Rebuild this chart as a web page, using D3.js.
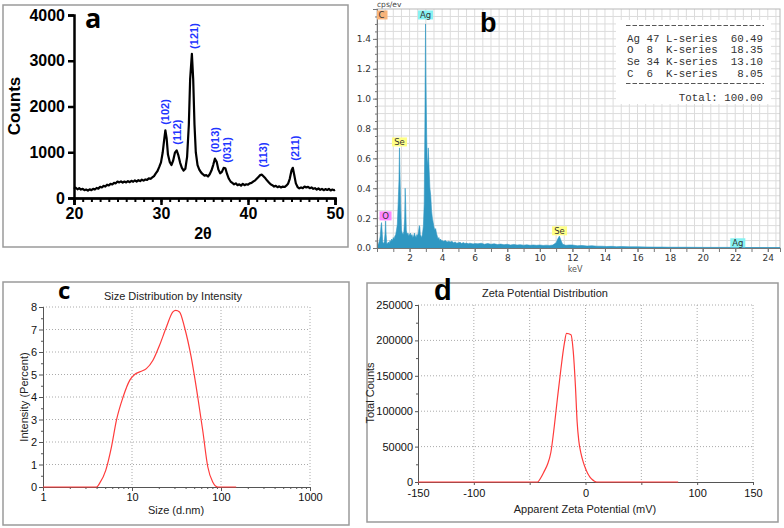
<!DOCTYPE html>
<html><head><meta charset="utf-8">
<script src="https://cdn.jsdelivr.net/npm/d3@7"></script>
<style>body{margin:0;background:#fff}svg{display:block}</style>
</head><body>
<svg id="fig" width="784" height="528"></svg>
<script>
// ---------- Panel a : XRD ----------
const xrdTheta = [20.0,20.2,20.4,20.6,20.8,21.0,21.2,21.4,21.6,21.8,22.0,22.2,22.4,22.6,22.8,23.0,23.2,23.4,23.6,23.8,24.0,24.2,24.4,24.6,24.8,25.0,25.2,25.4,25.6,25.8,26.0,26.2,26.4,26.6,26.8,27.0,27.2,27.4,27.6,27.8,28.0,28.2,28.4,28.6,28.8,29.0,29.2,29.4,29.6,29.8,30.0,30.2,30.35,30.5,30.65,30.8,31.0,31.2,31.4,31.6,31.8,32.0,32.2,32.4,32.6,32.8,33.0,33.2,33.35,33.55,33.7,33.85,34.0,34.2,34.4,34.6,34.8,35.0,35.2,35.4,35.6,35.8,36.0,36.2,36.4,36.6,36.8,37.0,37.2,37.4,37.6,37.8,38.0,38.2,38.4,38.6,38.8,39.0,39.2,39.4,39.6,39.8,40.0,40.2,40.4,40.6,40.8,41.0,41.2,41.4,41.6,41.8,42.0,42.2,42.4,42.6,42.8,43.0,43.2,43.4,43.6,43.8,44.0,44.2,44.4,44.6,44.8,45.0,45.15,45.3,45.5,45.7,45.9,46.1,46.3,46.5,46.7,46.9,47.1,47.3,47.5,47.7,47.9,48.1,48.3,48.5,48.7,48.9,49.1,49.3,49.5,49.7,49.9,50.0];
const xrdCounts = [200,225,190,215,185,200,170,185,160,190,170,200,185,220,205,245,230,265,250,290,275,310,295,330,320,360,340,365,335,360,340,370,345,375,355,385,360,390,370,400,380,405,395,430,420,450,480,540,590,680,780,1000,1250,1480,1300,950,790,720,820,990,1040,930,770,660,600,640,900,1600,2600,3150,2600,1600,1000,720,620,560,520,490,500,470,520,600,720,860,790,620,540,570,660,650,520,420,360,330,300,320,280,300,270,310,280,300,290,320,330,360,380,420,460,500,510,470,430,380,340,300,280,250,265,235,255,230,250,240,270,310,420,600,660,520,320,240,210,230,215,250,230,245,215,230,200,215,185,210,180,200,170,195,175,200,165,185,170,180];
const xrdTicks = [20,30,40,50];
const xrdYTicks = [0,1000,2000,3000,4000];
const peakNames = ["(102)","(112)","(121)","(013)","(031)","(113)","(211)"];
const peakTheta = [30.5,31.85,33.8,36.2,37.6,41.7,45.4];
const peakLevel = [1880,1440,3540,1270,1050,940,1090];

// ---------- Panel b : EDS ----------
const edsKeV = [0.05,0.1,0.15,0.2,0.25,0.28,0.31,0.35,0.4,0.45,0.5,0.53,0.56,0.6,0.65,0.7,0.75,0.8,0.85,0.9,0.95,1.0,1.05,1.1,1.15,1.2,1.25,1.3,1.35,1.38,1.41,1.45,1.5,1.55,1.6,1.65,1.7,1.73,1.76,1.8,1.85,1.9,1.95,2.0,2.05,2.1,2.15,2.2,2.25,2.3,2.35,2.4,2.45,2.5,2.55,2.6,2.63,2.66,2.7,2.75,2.8,2.85,2.9,2.94,2.98,3.0,3.02,3.05,3.08,3.12,3.15,3.18,3.21,3.25,3.3,3.35,3.4,3.45,3.5,3.55,3.6,3.65,3.7,3.75,3.8,3.85,3.9,3.95,4.0,4.1,4.2,4.3,4.4,4.5,4.6,4.7,4.8,4.9,5.0,5.1,5.2,5.3,5.4,5.5,5.6,5.7,5.8,5.9,6.0,6.2,6.4,6.6,6.8,7.0,7.2,7.4,7.6,7.8,8.0,8.2,8.4,8.6,8.8,9.0,9.2,9.4,9.6,9.8,10.0,10.2,10.4,10.6,10.8,11.0,11.1,11.2,11.3,11.4,11.6,11.8,12.0,12.3,12.6,12.9,13.2,13.5,13.8,14.1,14.4,14.7,15.0,15.5,16.0,16.5,17.0,17.5,18.0,19.0,20.0,21.0,22.0,23.0,24.0,24.75];
const edsCps = [0.02,0.03,0.05,0.08,0.15,0.17,0.12,0.04,0.03,0.04,0.1,0.18,0.09,0.03,0.03,0.04,0.03,0.05,0.04,0.06,0.05,0.07,0.06,0.08,0.09,0.12,0.16,0.3,0.45,0.67,0.5,0.3,0.12,0.1,0.09,0.11,0.2,0.4,0.3,0.12,0.09,0.1,0.08,0.09,0.1,0.08,0.09,0.07,0.08,0.1,0.08,0.07,0.09,0.08,0.11,0.15,0.14,0.09,0.08,0.07,0.1,0.15,0.3,0.8,1.5,1.2,1.0,0.75,0.6,0.55,0.67,0.58,0.5,0.4,0.35,0.25,0.2,0.17,0.14,0.12,0.13,0.1,0.08,0.06,0.07,0.05,0.06,0.05,0.05,0.045,0.05,0.04,0.045,0.04,0.045,0.035,0.04,0.032,0.035,0.038,0.03,0.036,0.03,0.033,0.028,0.032,0.03,0.027,0.03,0.028,0.032,0.025,0.03,0.025,0.028,0.023,0.026,0.022,0.025,0.02,0.024,0.02,0.022,0.019,0.021,0.018,0.02,0.018,0.02,0.017,0.019,0.017,0.02,0.035,0.06,0.08,0.05,0.025,0.018,0.02,0.02,0.015,0.017,0.013,0.015,0.012,0.012,0.01,0.011,0.009,0.01,0.008,0.008,0.007,0.006,0.006,0.005,0.005,0.004,0.004,0.004,0.003,0.003,0.003];
const edsTicksMajor = [0.2,0.4,0.6,0.8,1.0,1.2,1.4];
const edsXLabels = [2,4,6,8,10,12,14,16,18,20,22,24];
const elemNames = ["C","Ag","Se","O","Se","Ag"];
const elemKeV = [0.277,2.98,1.38,0.525,11.21,22.16];
const elemLevel = [1.53,1.53,0.68,0.185,0.085,0.005];
const elemColors = ["#f8b47a","#86f2f2","#ffff86","#ff86ff","#ffff86","#86f2f2"];
const tableRows = ["Ag 47 L-series  60.49","O  8  K-series  18.35","Se 34 K-series  13.10","C  6  K-series   8.05"];
const tableTotal = "        Total: 100.00";

// ---------- Panel c : DLS size ----------
const sizeNm = [1,2,3,3.99,4.35,5.07,5.88,6.68,7.94,9.42,10.7,12.5,14.5,17.2,20.4,24.3,28.8,31,34.2,38.9,46.2,54.8,62.4,71,80.7,91.9,148];
const intensityPct = [0,0,0,0,0.18,0.74,1.78,2.96,4.0,4.74,5.0,5.13,5.26,5.63,6.3,7.1,7.78,7.85,7.78,7.1,5.78,4.0,2.5,0.9,0.22,0,0];
const sizeTicks = [1,10,100,1000];
const intTicks = [0,1,2,3,4,5,6,7,8];

// ---------- Panel d : Zeta ----------
const zetaMv = [-150,-43,-40,-37,-34,-31,-28,-25,-22,-19,-17,-13,-11,-9,-7.5,-6,-4,-2,0,2,4,6,8,10,83];
const zetaCounts = [0,0,6000,15000,25000,42000,78000,120000,160000,195000,210000,208000,185000,135000,85000,58000,40000,28000,19000,12000,7000,3500,1200,0,0];
const zetaTicks = [-150,-100,-50,0,50,100,150];
const zetaLabels = ["-150","-100","","0","","100","150"];
const countTicks = [0,50000,100000,150000,200000,250000];

const svg = d3.select("#fig");
svg.append("rect").attr("width",784).attr("height",528).attr("fill","#fff");

function styleAxis(g, color, font, size, weight, sw){
  g.selectAll("path").attr("stroke",color).attr("stroke-width",sw);
  g.selectAll("line").attr("stroke",color).attr("stroke-width",sw);
  g.selectAll("text").attr("fill",color==="#000"?"#000":"#111").attr("font-family",font).attr("font-size",size).attr("font-weight",weight);
}

// ================= Panel a =================
{
  const g = svg.append("g");
  g.append("rect").attr("x",3).attr("y",5).attr("width",345).attr("height",242)
    .attr("fill","none").attr("stroke","#9a9a9a").attr("stroke-width",1.5);
  const x = d3.scaleLinear().domain([20,50]).range([74,335]);
  const y = d3.scaleLinear().domain([0,4000]).range([198,15]);
  const F = "Liberation Sans, Arial, sans-serif";
  const minor = g.append("g").attr("transform","translate(0,198)")
    .call(d3.axisBottom(x).tickValues(d3.range(20,51,1)).tickSize(4).tickFormat(""));
  styleAxis(minor,"#000",F,16,"bold",2);
  const xa = g.append("g").attr("transform","translate(0,198)")
    .call(d3.axisBottom(x).tickValues(xrdTicks).tickSize(7).tickPadding(3).tickFormat(d3.format("d")));
  styleAxis(xa,"#000",F,16,"bold",2.5);
  const ya = g.append("g").attr("transform","translate(74,0)")
    .call(d3.axisLeft(y).tickValues(xrdYTicks).tickSize(6).tickPadding(3).tickFormat(d3.format("d")));
  styleAxis(ya,"#000",F,16,"bold",2.5);
  const line = d3.line().x((d,i)=>x(xrdTheta[i])).y(d=>y(d));
  g.append("path").attr("d",line(xrdCounts)).attr("fill","none").attr("stroke","#000").attr("stroke-width",2.2).attr("stroke-linejoin","round");
  peakNames.forEach((n,i)=>{
    g.append("text").attr("transform",`translate(${x(peakTheta[i])},${y(peakLevel[i])}) rotate(-90)`)
      .attr("text-anchor","middle").attr("dy","0.35em").attr("fill","#1f35ff")
      .attr("font-family",F).attr("font-weight","bold").attr("font-size",11).text(n);
  });
  g.append("text").attr("transform","translate(20,106) rotate(-90)").attr("text-anchor","middle")
    .attr("font-family",F).attr("font-weight","bold").attr("font-size",17).text("Counts");
  g.append("text").attr("x",203).attr("y",239).attr("text-anchor","middle")
    .attr("font-family",F).attr("font-weight","bold").attr("font-size",16).text("2θ");
  g.append("text").attr("x",85).attr("y",28).attr("font-family","Open Sans, sans-serif").attr("font-weight","bold").attr("font-size",27).text("a");
}

// ================= Panel b =================
{
  const g = svg.append("g");
  const x = d3.scaleLinear().domain([0,24.75]).range([377,780]);
  const y = d3.scaleLinear().domain([0,1.6]).range([248,9]);
  const F = "DejaVu Sans, Verdana, sans-serif";
  g.append("rect").attr("x",377).attr("y",9).attr("width",403).attr("height",239).attr("fill","#fff");
  d3.range(0.5,24.75,0.5).forEach(v=>g.append("line").attr("x1",x(v)).attr("x2",x(v)).attr("y1",9).attr("y2",248).attr("stroke","#dcdcdc").attr("stroke-width",1));
  d3.range(0.05,1.6,0.05).forEach(v=>g.append("line").attr("x1",377).attr("x2",780).attr("y1",y(v)).attr("y2",y(v)).attr("stroke","#dcdcdc").attr("stroke-width",1));
  g.append("rect").attr("x",377).attr("y",9).attr("width",403).attr("height",239).attr("fill","none").attr("stroke","#b8b8b8");
  // table box
  g.append("rect").attr("x",616).attr("y",20).attr("width",155).attr("height",84).attr("fill","#fff");
  const area = d3.area().x((d,i)=>x(edsKeV[i])).y0(y(0)).y1(d=>y(d));
  g.append("path").attr("d",area(edsCps)).attr("fill","#2f97c2").attr("stroke","#2f97c2").attr("stroke-width",0.6);
  const ya = g.append("g").attr("transform","translate(377,0)")
    .call(d3.axisLeft(y).tickValues(d3.range(0,1.61,0.05)).tickSize(2).tickFormat(""));
  styleAxis(ya,"#777",F,9,"normal",1);
  const ya2 = g.append("g").attr("transform","translate(377,0)")
    .call(d3.axisLeft(y).tickValues([0].concat(edsTicksMajor)).tickSize(4).tickPadding(2).tickFormat(d3.format(".1f")));
  styleAxis(ya2,"#777",F,9,"normal",1);
  ya2.selectAll("text").attr("fill","#333");
  const xa = g.append("g").attr("transform","translate(0,248)")
    .call(d3.axisBottom(x).tickValues(d3.range(1,25,1)).tickSize(4).tickFormat(""));
  styleAxis(xa,"#777",F,9,"normal",1);
  const xa2 = g.append("g").attr("transform","translate(0,248)")
    .call(d3.axisBottom(x).tickValues(edsXLabels).tickSize(4).tickPadding(3).tickFormat(d3.format("d")));
  styleAxis(xa2,"#777",F,9,"normal",1);
  xa2.selectAll("text").attr("fill","#333");
  g.append("text").attr("x",377).attr("y",7).attr("font-family",F).attr("font-size",7.5).attr("fill","#444").text("cps/ev");
  g.append("text").attr("x",575).attr("y",272).attr("text-anchor","middle").attr("font-family",F).attr("font-size",8).attr("fill","#555").text("keV");
  const clip = g.append("clipPath").attr("id","bclip");
  clip.append("rect").attr("x",377).attr("y",9).attr("width",403).attr("height",239);
  const lg = g.append("g").attr("clip-path","url(#bclip)");
  elemNames.forEach((n,i)=>{
    const w = n.length===1?12:15, cxp = x(elemKeV[i]), by = y(elemLevel[i]);
    lg.append("rect").attr("x",cxp-w/2).attr("y",by-9).attr("width",w).attr("height",9).attr("fill",elemColors[i]);
    lg.append("text").attr("x",cxp).attr("y",by-1.5).attr("text-anchor","middle").attr("font-family",F).attr("font-size",8.5).attr("fill","#333").text(n);
  });
  const M = "Liberation Mono, Courier New, monospace";
  const tx = 627;
  g.append("line").attr("x1",626).attr("x2",764).attr("y1",25.5).attr("y2",25.5).attr("stroke","#555").attr("stroke-dasharray","4.5,2");
  tableRows.forEach((r,i)=>g.append("text").attr("x",tx).attr("y",41.5+i*11.7).attr("font-family",M).attr("font-size",10.8).attr("fill","#333").style("white-space","pre").text(r));
  g.append("line").attr("x1",626).attr("x2",764).attr("y1",83.5).attr("y2",83.5).attr("stroke","#555").attr("stroke-dasharray","4.5,2");
  g.append("text").attr("x",tx).attr("y",100.5).attr("font-family",M).attr("font-size",10.8).attr("fill","#333").style("white-space","pre").text(tableTotal);
  g.append("text").attr("x",480).attr("y",32).attr("font-family","Liberation Sans, Arial, sans-serif").attr("font-weight","bold").attr("font-size",27).text("b");
}

// ================= Panel c =================
{
  const g = svg.append("g");
  g.append("rect").attr("x",3).attr("y",282).attr("width",346).attr("height",243).attr("fill","none").attr("stroke","#9a9a9a").attr("stroke-width",1.5);
  const x = d3.scaleLog().domain([1,1000]).range([43,310]);
  const y = d3.scaleLinear().domain([0,8]).range([487,307]);
  const F = "Liberation Sans, Arial, sans-serif";
  intTicks.slice(1).forEach(v=>g.append("line").attr("x1",43).attr("x2",310).attr("y1",y(v)).attr("y2",y(v)).attr("stroke","#aaa").attr("stroke-dasharray","1,2"));
  sizeTicks.slice(1).forEach(v=>g.append("line").attr("x1",x(v)).attr("x2",x(v)).attr("y1",307).attr("y2",487).attr("stroke","#aaa").attr("stroke-dasharray","1,2"));
  const minorX = [];
  [1,10,100].forEach(b=>{for(let k=2;k<10;k++) minorX.push(b*k);});
  const xm = g.append("g").attr("transform","translate(0,487)").call(d3.axisBottom(x).tickValues(minorX).tickSize(2).tickFormat(""));
  styleAxis(xm,"#555",F,11,"normal",1);
  const xa = g.append("g").attr("transform","translate(0,487)").call(d3.axisBottom(x).tickValues(sizeTicks).tickSize(4).tickPadding(2).tickFormat(d3.format("d")));
  styleAxis(xa,"#555",F,11,"normal",1);
  const ym = g.append("g").attr("transform","translate(43,0)").call(d3.axisLeft(y).tickValues(d3.range(0.5,8,1)).tickSize(2).tickFormat(""));
  styleAxis(ym,"#555",F,11,"normal",1);
  const ya = g.append("g").attr("transform","translate(43,0)").call(d3.axisLeft(y).tickValues(intTicks).tickSize(4).tickPadding(2));
  styleAxis(ya,"#555",F,11,"normal",1);
  const line = d3.line().x((d,i)=>x(sizeNm[i])).y(d=>y(d)).curve(d3.curveMonotoneX);
  g.append("path").attr("d",line(intensityPct)).attr("fill","none").attr("stroke","#ff3b3b").attr("stroke-width",1.2);
  g.append("text").attr("x",173).attr("y",300).attr("text-anchor","middle").attr("font-family",F).attr("font-size",11).attr("fill","#222").text("Size Distribution by Intensity");
  g.append("text").attr("x",176).attr("y",514).attr("text-anchor","middle").attr("font-family",F).attr("font-size",11).attr("fill","#222").text("Size (d.nm)");
  g.append("text").attr("transform","translate(28,397) rotate(-90)").attr("text-anchor","middle").attr("font-family",F).attr("font-size",11).attr("fill","#222").text("Intensity (Percent)");
  g.append("text").attr("x",58).attr("y",299).attr("font-family","Open Sans, sans-serif").attr("font-weight","bold").attr("font-size",24).text("c");
}

// ================= Panel d =================
{
  const g = svg.append("g");
  g.append("rect").attr("x",367).attr("y",283).attr("width",411).attr("height",239).attr("fill","none").attr("stroke","#9a9a9a").attr("stroke-width",1.5);
  const x = d3.scaleLinear().domain([-150,150]).range([418,753]);
  const y = d3.scaleLinear().domain([0,250000]).range([482,305]);
  const F = "Liberation Sans, Arial, sans-serif";
  countTicks.slice(1).forEach(v=>g.append("line").attr("x1",418).attr("x2",753).attr("y1",y(v)).attr("y2",y(v)).attr("stroke","#aaa").attr("stroke-dasharray","1,2"));
  zetaTicks.slice(1).forEach(v=>g.append("line").attr("x1",x(v)).attr("x2",x(v)).attr("y1",305).attr("y2",482).attr("stroke","#aaa").attr("stroke-dasharray","1,2"));
  const xa = g.append("g").attr("transform","translate(0,482)").call(d3.axisBottom(x).tickValues(zetaTicks).tickSize(3).tickPadding(4).tickFormat((d,i)=>zetaLabels[i]));
  styleAxis(xa,"#555",F,11,"normal",1);
  const ym = g.append("g").attr("transform","translate(418,0)").call(d3.axisLeft(y).tickValues(d3.range(25000,250000,50000)).tickSize(2).tickFormat(""));
  styleAxis(ym,"#555",F,11,"normal",1);
  const ya = g.append("g").attr("transform","translate(418,0)").call(d3.axisLeft(y).tickValues(countTicks).tickSize(3).tickPadding(2).tickFormat(d3.format("d")));
  styleAxis(ya,"#555",F,11,"normal",1);
  const line = d3.line().x((d,i)=>x(zetaMv[i])).y(d=>y(d)).curve(d3.curveMonotoneX);
  g.append("path").attr("d",line(zetaCounts)).attr("fill","none").attr("stroke","#ff3b3b").attr("stroke-width",1.2);
  g.append("text").attr("x",545).attr("y",297).attr("text-anchor","middle").attr("font-family",F).attr("font-size",11).attr("fill","#222").text("Zeta Potential Distribution");
  g.append("text").attr("x",585).attr("y",513).attr("text-anchor","middle").attr("font-family",F).attr("font-size",11).attr("fill","#222").text("Apparent Zeta Potential (mV)");
  g.append("text").attr("transform","translate(374,393) rotate(-90)").attr("text-anchor","middle").attr("font-family",F).attr("font-size",11).attr("fill","#222").text("Total Counts");
  g.append("text").attr("x",434).attr("y",300).attr("font-family","Liberation Sans, Arial, sans-serif").attr("font-weight","bold").attr("font-size",29).text("d");
}
</script>
</body></html>
